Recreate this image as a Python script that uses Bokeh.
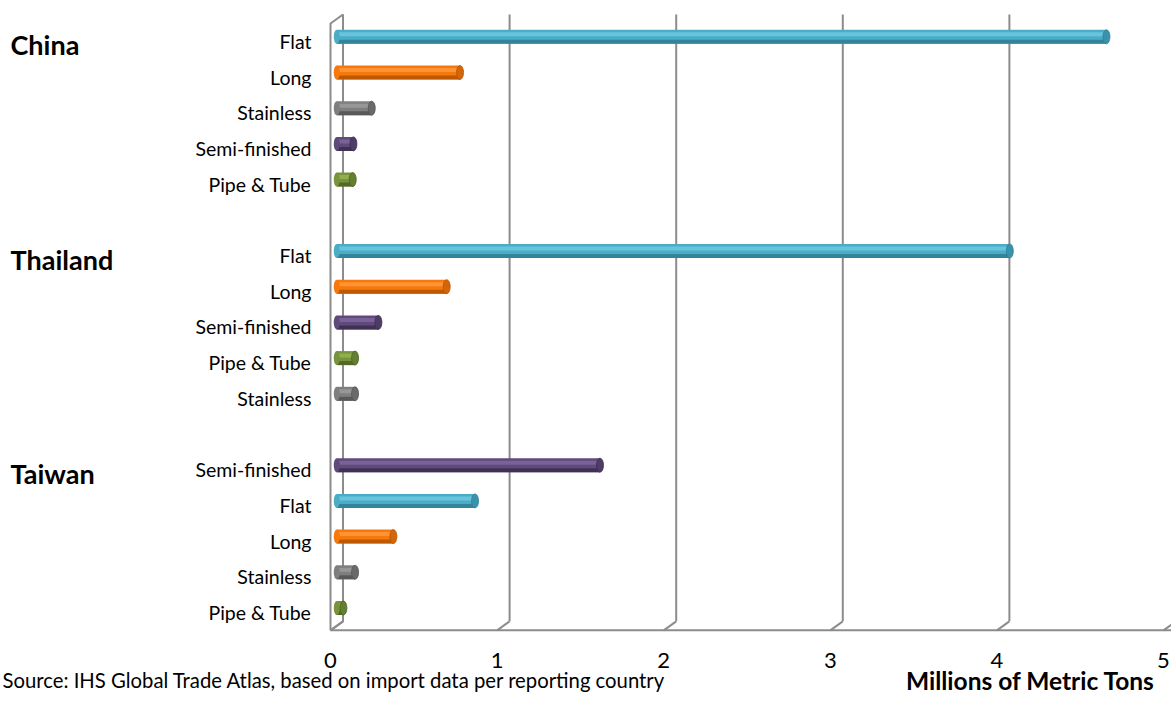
from bokeh.plotting import figure
from bokeh.models import Range1d, ColumnDataSource
from bokeh.embed import file_html
from bokeh.resources import INLINE
from bokeh.core.properties import value

# ---------------- data ----------------
countries = ["China", "Thailand", "Taiwan"]
china_products = ["Flat", "Long", "Stainless", "Semi-finished", "Pipe & Tube"]
china_values = [4.62, 0.74, 0.21, 0.10, 0.096]
thailand_products = ["Flat", "Long", "Semi-finished", "Pipe & Tube", "Stainless"]
thailand_values = [4.04, 0.66, 0.25, 0.11, 0.11]
taiwan_products = ["Semi-finished", "Flat", "Long", "Stainless", "Pipe & Tube"]
taiwan_values = [1.58, 0.83, 0.34, 0.11, 0.04]
x_ticks = [0, 1, 2, 3, 4, 5]
x_title = "Millions of Metric Tons"
source_note = "Source: IHS Global Trade Atlas, based on import data per reporting country"

# product colours: (body, highlight, shadow, cap)
palette = {
    "Flat": ("#4bacc6", "#6fcbe3", "#2f7f95", "#3b93ab"),
    "Long": ("#f7780e", "#ff9a3c", "#b85500", "#d46508"),
    "Stainless": ("#7f7f7f", "#9e9e9e", "#555555", "#6a6a6a"),
    "Semi-finished": ("#604a7b", "#7e68a0", "#3d2e50", "#4e3c66"),
    "Pipe & Tube": ("#77933c", "#97b653", "#4e6326", "#657f31"),
}

groups = [(countries[0], china_products, china_values),
          (countries[1], thailand_products, thailand_values),
          (countries[2], taiwan_products, taiwan_values)]

# slot layout: 5 bars per group, one empty slot between groups
rows = []
slot = 0
group_first_slot = []
for gi, (cname, prods, vals) in enumerate(groups):
    group_first_slot.append(slot)
    for pr, v in zip(prods, vals):
        rows.append((slot, pr, v))
        slot += 1
    slot += 1  # gap
n_slots = slot - 1  # 17

# ---------------- geometry (pixels -> data) ----------------
W, H = 1171, 713
PX0, PXU = 330.0, 166.6      # pixel of x=0 on front plane, px per unit
PY0, PYU = 40.8, 35.7        # pixel of slot 0 centre, px per slot
DX = 12.5 / PXU              # depth offset in x units
DY = -9.0 / PYU              # depth offset in slot units
px = 1.0 / PYU               # one pixel in slot units

p = figure(width=W, height=H, output_backend="svg", toolbar_location=None,
           x_range=Range1d(-PX0 / PXU, (W - PX0) / PXU),
           y_range=Range1d((H - PY0) / PYU, -PY0 / PYU),
           min_border=0, outline_line_color=None)
p.axis.visible = False
p.grid.visible = False
p.background_fill_color = "white"
p.border_fill_color = "white"

grid_col = "#8c8c8c"
top_front = -0.5
floor = n_slots - 0.5

# left wall
p.line([0, 0, DX, DX, 0], [floor, top_front, top_front + DY, floor + DY, floor],
       line_color=grid_col, line_width=2)
# back wall gridlines
for t in x_ticks[1:]:
    p.line([t + DX, t + DX], [top_front + DY, floor + DY], line_color=grid_col, line_width=2)
# floor
p.line([0, x_ticks[-1] + DX * 2], [floor, floor], line_color=grid_col, line_width=2)
for t in x_ticks:
    p.line([t, t + DX], [floor, floor + DY], line_color=grid_col, line_width=2)

# bars as shaded cylinders
x0 = DX / 2
ys = [r[0] + DY / 2 for r in rows]
prods = [r[1] for r in rows]
vals = [r[2] for r in rows]
src = ColumnDataSource(dict(
    y=ys,
    right=[x0 + v for v in vals],
    body=[palette[pr][0] for pr in prods],
    hi=[palette[pr][1] for pr in prods],
    sh=[palette[pr][2] for pr in prods],
    cap=[palette[pr][3] for pr in prods],
    y_hi=[y - 2.5 * px for y in ys],
    y_sh=[y + 5.0 * px for y in ys],
))
p.hbar(y="y", left=x0, right="right", height=14 * px, fill_color="body",
       line_color=None, source=src)
p.hbar(y="y_hi", left=x0, right="right", height=4 * px, fill_color="hi",
       line_color=None, fill_alpha=0.8, source=src)
p.hbar(y="y_sh", left=x0, right="right", height=4 * px, fill_color="sh",
       line_color=None, fill_alpha=0.9, source=src)
p.ellipse(x=x0, y="y", width=6, height=14, width_units="screen", height_units="screen",
          fill_color="body", line_color=None, source=src)
p.ellipse(x="right", y="y", width=7, height=14, width_units="screen", height_units="screen",
          fill_color="cap", line_color="sh", line_width=0.8, source=src)

font = value("Lato")
# category labels
p.text(x=[(311 - PX0) / PXU] * len(rows), y=[r[0] for r in rows], text=prods,
       text_font=font, text_font_size="19.5px", text_align="right",
       text_baseline="middle", text_color="#000000")
# country labels
p.text(x=[(10 - PX0) / PXU] * 3, y=[s + 0.1 for s in group_first_slot], text=countries,
       text_font=font, text_font_size="27px", text_font_style="bold",
       text_align="left", text_baseline="middle", text_color="#000000")
# tick labels
p.text(x=x_ticks, y=[(660 - PY0) / PYU] * len(x_ticks), text=[str(t) for t in x_ticks],
       text_font=font, text_font_size="22px", text_align="center",
       text_baseline="middle", text_color="#000000")
# axis title
p.text(x=[(1030 - PX0) / PXU], y=[(680 - PY0) / PYU], text=[x_title],
       text_font=font, text_font_size="24.5px", text_font_style="bold",
       text_align="center", text_baseline="middle", text_color="#000000")
# source note
p.text(x=[(2 - PX0) / PXU], y=[(679 - PY0) / PYU], text=[source_note],
       text_font=font, text_font_size="20.3px", text_align="left",
       text_baseline="middle", text_color="#000000")

open("out.html", "w").write(file_html(p, INLINE))
